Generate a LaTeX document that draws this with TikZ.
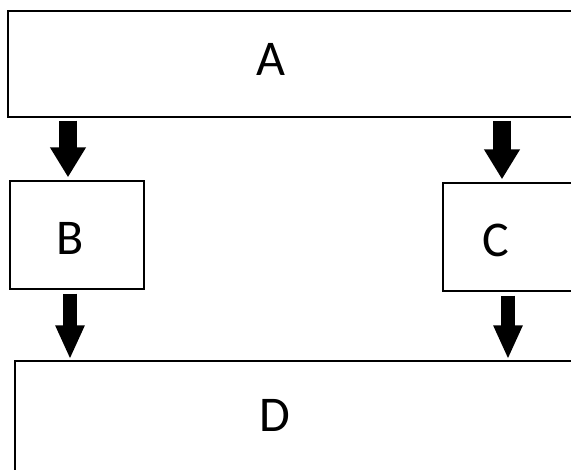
\documentclass[tikz,border=0pt]{standalone}
\usepackage{fontspec}
\setmainfont{Carlito}
\usetikzlibrary{arrows.meta}
\tikzset{
  box/.style={draw=black, line width=1.4pt, fill=white, inner sep=0pt, rectangle},
  lbl/.style={inner sep=0pt, font=\fontsize{50}{60}\selectfont},
  bigarrow/.style={line width=18pt, -{Triangle[width=34pt,length=30pt]}, shorten <=3pt, shorten >=3pt},
  smallarrow/.style={line width=14pt, -{Triangle[width=27pt,length=34pt]}, shorten <=4pt, shorten >=1pt},
}
\begin{document}
\begin{tikzpicture}[x=1pt,y=-1pt]
\clip (0,0) rectangle (571,470);
\fill[white] (0,0) rectangle (571,470);
% boxes
\node[box, minimum width=612pt, minimum height=106pt] (A) at (314,64) {};
\node[box, minimum width=134pt, minimum height=108pt] (B) at (77,235) {};
\node[box, minimum width=177pt, minimum height=108pt] (C) at (531.5,237) {};
\node[box, minimum width=605pt, minimum height=159pt] (D) at (317.5,440.5) {};
% labels
\node[lbl] (At) at (271,59) {A};
\node[lbl] (Bt) at (70,238) {B};
\node[lbl] (Ct) at (496,240) {C};
\node[lbl] (Dt) at (275,415) {D};
% arrow x positions
\coordinate (x1) at (68,0);
\coordinate (x2) at (502,0);
\coordinate (x3) at (70,0);
\coordinate (x4) at (508,0);
% arrows
\draw[bigarrow] (A.south -| x1) -- (B.north -| x1);
\draw[bigarrow] (A.south -| x2) -- (C.north -| x2);
\draw[smallarrow] (B.south -| x3) -- (D.north -| x3);
\draw[smallarrow] (C.south -| x4) -- (D.north -| x4);
\end{tikzpicture}
\end{document}
